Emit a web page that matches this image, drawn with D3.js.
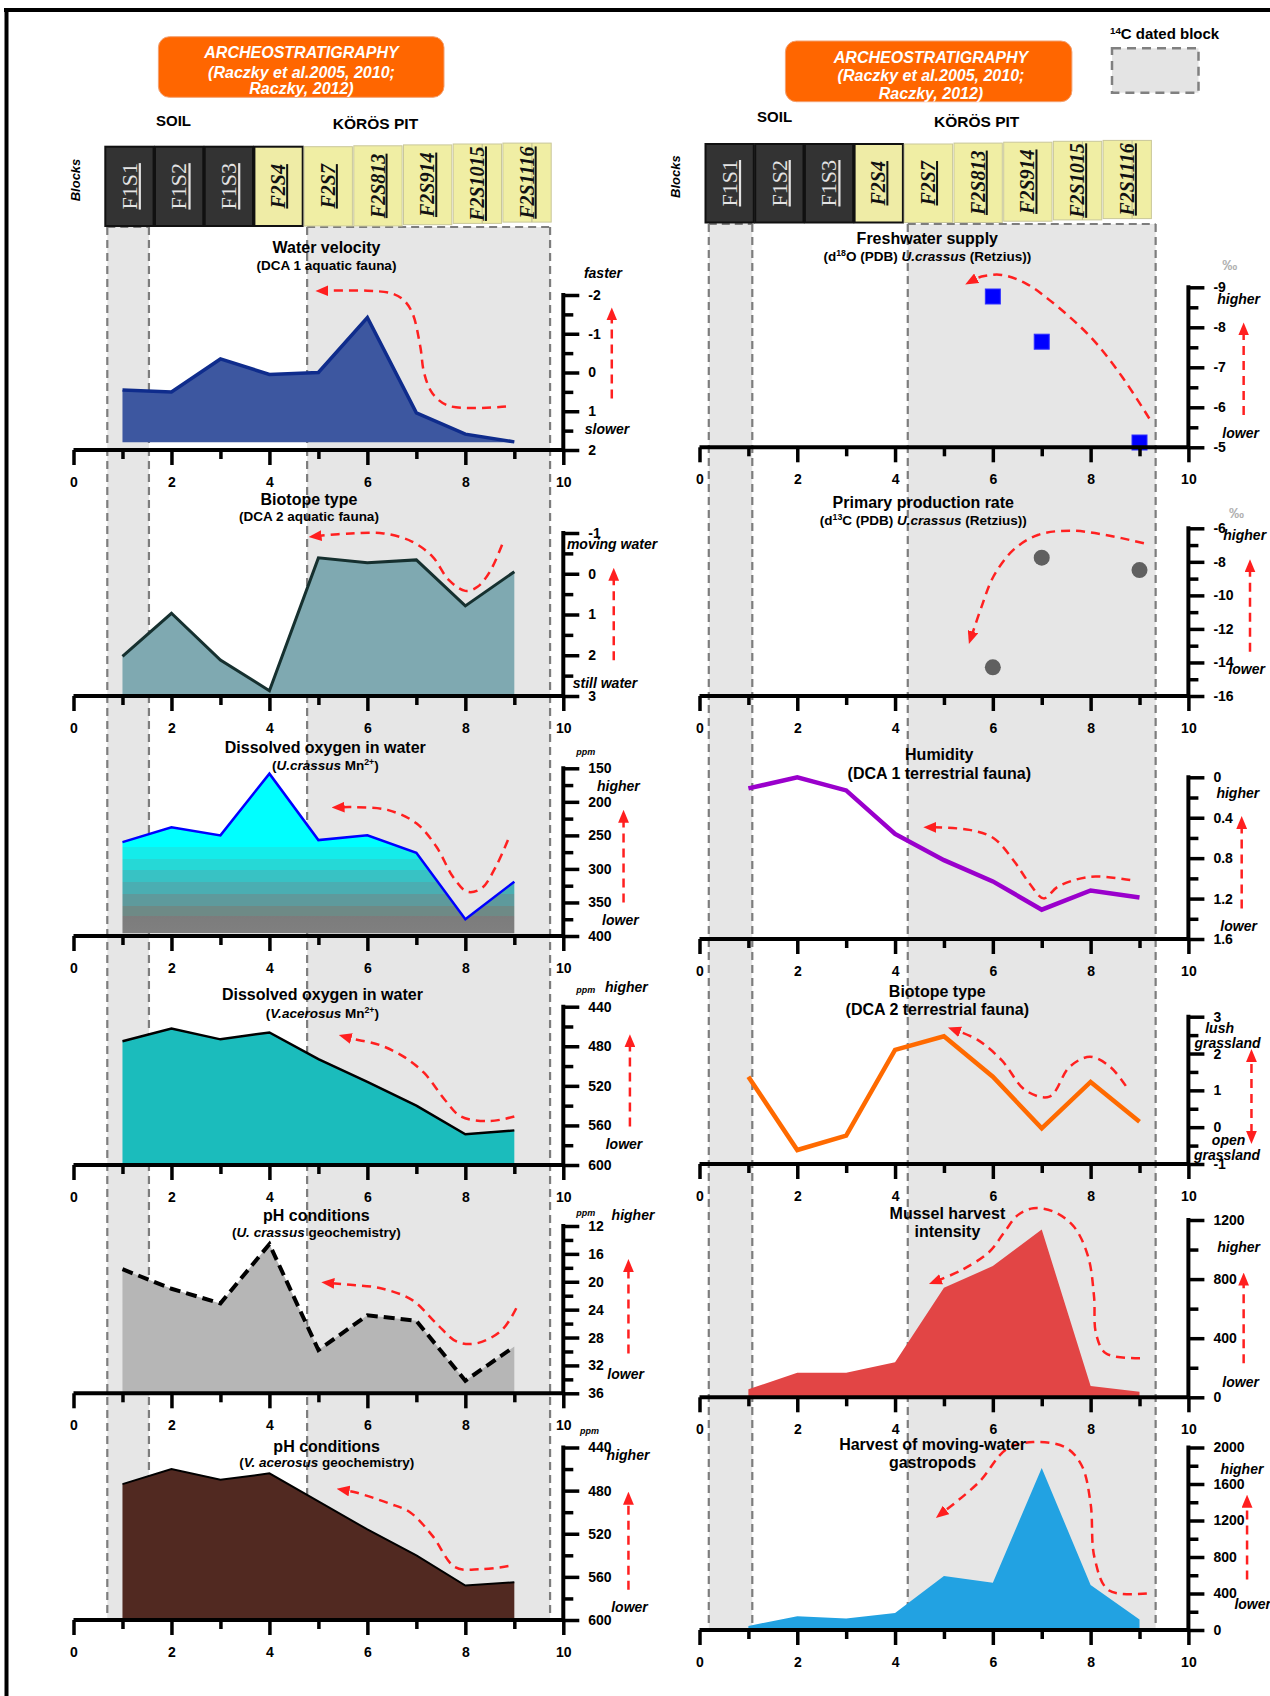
<!DOCTYPE html>
<html><head><meta charset="utf-8">
<script src="https://cdn.jsdelivr.net/npm/d3@7"></script>
<style>
body{margin:0;background:#fff;}
svg{display:block;font-family:"Liberation Sans",Arial,Helvetica,sans-serif;}
</style></head><body>
<script>
// ---------------- DATA ----------------
const xs = [1,2,3,4,5,6,7,8,9];
const waterVelocity     = [0.45,0.5,-0.35,0.05,0.0,-1.42,1.04,1.59,1.79];
const biotopeAquatic    = [2.03,0.97,2.12,2.87,-0.39,-0.27,-0.34,0.79,-0.05];
const oxygenUcrassus    = [260,238,250,158,257,250,276,375,319];
const oxygenVacerosus   = [475,462,473,466,493,516,540,569,565];
const phUcrassus        = [18.2,21.0,23.1,14.6,29.8,24.8,25.6,34.2,29.3];
const phVacerosus       = [474,460,470,464,490,516,540,568,565];
const d18Ox = [6,7,9];
const d18O  = [-8.77,-7.64,-5.12];
const d13Cx = [6,7,9];
const d13C  = [-14.29,-7.75,-8.49];
const humidity          = [0.11,0.0,0.13,0.56,0.82,1.03,1.31,1.12,1.19];
const biotopeTerrestrial= [1.37,-0.62,-0.23,2.1,2.47,1.37,-0.03,1.23,0.15];
const musselHarvest     = [54,166,166,237,742,888,1136,76,38];
const gastropodHarvest  = [44,151,127,186,592,518,1775,493,115];

const xMajor = [0,2,4,6,8,10];
const xMinor = [1,3,5,7,9];

const blockLabels = ['F1S1','F1S2','F1S3','F2S4','F2S7','F2S813','F2S914','F2S1015','F2S1116'];
const blockKind   = ['soil','soil','soil','dated','pit','pit','pit','pit','pit'];

const bandsLeft  = [[0.69,1.54],[4.77,9.73]];
const bandsRight = [[0.19,1.08],[4.26,9.33]];

// trend annotations (data units of each panel)
const annL1 = [[8.83,0.88],[7.66,0.86],[7.33,0.54],[7.16,0.02],[7.08,-0.67],[6.92,-1.53],[6.74,-1.87],[6.5,-2.04],[6.0,-2.11],[5.16,-2.11]];
const annL2 = [[8.75,-0.71],[8.5,-0.05],[8.25,0.32],[8.0,0.42],[7.66,0.15],[7.33,-0.42],[6.91,-0.79],[6.33,-0.99],[5.66,-0.99],[5.02,-0.93]];
const annL3 = [[8.87,257],[8.62,297],[8.33,329],[8.04,334],[7.75,312],[7.41,267],[7.0,232],[6.41,212],[5.75,208],[5.49,208]];
const annL4 = [[9.0,551],[8.5,555.6],[7.91,551],[7.58,534],[7.16,507],[6.74,490.5],[6.25,478.7],[5.75,473],[5.63,471.5]];
const annL5 = [[9.04,23.8],[8.75,26.9],[8.25,28.8],[7.83,28.6],[7.41,26.0],[6.91,22.6],[6.25,20.9],[5.58,20.4],[5.28,20.2]];
const annL6 = [[8.88,550],[8.3,553],[7.79,551],[7.33,522],[6.87,500],[6.45,492],[5.79,482],[5.59,480]];
const annR1 = [[9.2,-5.72],[8.64,-6.77],[7.99,-7.77],[7.16,-8.68],[6.67,-9.1],[6.18,-9.31],[5.77,-9.27],[5.63,-9.2]];
const annR2 = [[9.09,-6.89],[8.31,-6.4],[7.57,-6.14],[6.92,-6.4],[6.42,-7.29],[6.01,-8.89],[5.77,-10.67],[5.58,-12.29]];
const annR3 = [[8.81,1.017],[7.99,0.984],[7.33,1.083],[7.04,1.198],[6.75,1.05],[6.42,0.82],[6.01,0.60],[5.52,0.52],[4.8,0.495]];
const annR4 = [[8.72,1.12],[8.4,1.64],[7.99,1.91],[7.57,1.64],[7.16,0.83],[6.67,1.0],[6.18,1.82],[5.69,2.37],[5.29,2.61]];
const annR5 = [[9.01,264],[8.31,298],[8.11,433],[8.07,681],[7.95,951],[7.66,1154],[7.25,1256],[6.83,1279],[6.51,1233],[6.22,1110],[5.93,985],[5.36,861],[4.9,794]];
const annR6 = [[9.15,400],[8.37,435],[8.08,791],[8.0,1384],[7.82,1800],[7.49,2000],[6.82,2060],[6.27,1977],[5.72,1622],[5.01,1301]];

// ---------------- SETUP ----------------
const svg = d3.select('body').append('svg').attr('width',1270).attr('height',1696);
const defs = svg.append('defs');
defs.append('marker').attr('id','ah').attr('viewBox','0 0 12 10').attr('refX',2).attr('refY',5)
  .attr('markerWidth',13).attr('markerHeight',11).attr('markerUnits','userSpaceOnUse')
  .attr('orient','auto-start-reverse')
  .append('path').attr('d','M0,0L12,5L0,10Z').attr('fill','#ff1f1f');

const grad = defs.append('linearGradient').attr('id','gO2').attr('gradientUnits','userSpaceOnUse')
  .attr('x1',0).attr('x2',0).attr('y1',768).attr('y2',936);
[[0,'#00ffff'],[0.47,'#00ffff'],[0.47,'#14ecea'],[0.54,'#14ecea'],[0.54,'#26d8d6'],[0.61,'#26d8d6'],
 [0.61,'#38c2c4'],[0.68,'#38c2c4'],[0.68,'#4aaeb2'],[0.75,'#4aaeb2'],[0.75,'#5e9a9c'],[0.82,'#5e9a9c'],
 [0.82,'#6e8a86'],[0.88,'#6e8a86'],[0.88,'#7c7c7c'],[1,'#808080']].forEach(s=>
  grad.append('stop').attr('offset',s[0]).attr('stop-color',s[1]));

const xL = d3.scaleLinear().domain([0,10]).range([73.5,563.3]);
const xR = d3.scaleLinear().domain([0,10]).range([699.5,1188.4]);

// border
svg.append('line').attr('x1',4).attr('x2',1270).attr('y1',10).attr('y2',10).attr('stroke','#000').attr('stroke-width',4);
svg.append('line').attr('x1',6.5).attr('x2',6.5).attr('y1',8).attr('y2',1696).attr('stroke','#000').attr('stroke-width',4);

// ---------------- BANDS ----------------
function drawBands(x, bands, y0, y1){
  const g = svg.append('g');
  bands.forEach(b=>{
    g.append('rect').attr('x',x(b[0])).attr('y',y0).attr('width',x(b[1])-x(b[0])).attr('height',y1-y0).attr('fill','#e6e6e6');
    const ds = {stroke:'#7d7d7d','stroke-width':2.2,'stroke-dasharray':'8,5'};
    const l = [[x(b[0]),y0,x(b[0]),y1],[x(b[1]),y0,x(b[1]),y1],[x(b[0]),y0,x(b[1]),y0]];
    l.forEach(c=>{const e=g.append('line').attr('x1',c[0]).attr('y1',c[1]).attr('x2',c[2]).attr('y2',c[3]);
      Object.entries(ds).forEach(([k,v])=>e.attr(k,v));});
  });
}
drawBands(xL, bandsLeft, 227, 1620);
drawBands(xR, bandsRight, 224, 1630);

// ---------------- TEXT HELPERS ----------------
function rich(x, y, parts, o){
  o = o||{};
  const t = svg.append('text').attr('x',x).attr('y',y).attr('text-anchor',o.anchor||'middle')
    .attr('font-size',o.size||13).attr('font-weight',o.weight||'bold').attr('fill',o.fill||'#000');
  if(o.italic) t.attr('font-style','italic');
  let shift = 0;
  parts.forEach(p=>{
    const s = t.append('tspan').text(p.t);
    if(p.it) s.attr('font-style','italic');
    if(p.sup){ s.attr('font-size',(o.size||13)*0.65).attr('dy',-5); shift = 5; }
    else if(shift){ s.attr('dy',shift); shift=0; }
  });
  return t;
}
function txt(x,y,s,o){ return rich(x,y,[{t:s}],o); }

// ---------------- HEADER ----------------
function header(bx, by, bw, bh, tx, lines, soil, pit, blocksX, blocksTop, blocksBot, blocksLbl){
  svg.append('rect').attr('x',bx).attr('y',by).attr('width',bw).attr('height',bh).attr('rx',11)
    .attr('fill','#ff6600').attr('stroke','#f3a070').attr('stroke-width',1);
  lines.forEach(l=>txt(tx,l[1],l[0],{size:16,italic:true,fill:'#fff'}));
  txt(soil[0],soil[1],'SOIL',{size:15});
  txt(pit[0],pit[1],'KÖRÖS PIT',{size:15.5});
  svg.append('text').attr('transform',`translate(${blocksLbl[0]},${blocksLbl[1]}) rotate(-90)`)
    .attr('text-anchor','middle').attr('dy','0.35em').attr('font-size',13).attr('font-weight','bold')
    .attr('font-style','italic').text('Blocks');
  blockLabels.forEach((lab,i)=>{
    const x0 = blocksX + i*49.7, w = 48.3;
    const top = blocksTop - Math.max(0,i-4)*0.9, bot = blocksBot - Math.max(0,i-5)*1.3;
    const kind = blockKind[i];
    const fill = kind==='soil' ? '#333333' : (kind==='dated' ? '#efeca6' : '#f0eea4');
    const stroke = kind==='soil' ? '#111' : (kind==='dated' ? '#111' : '#c9c79a');
    const sw = kind==='pit' ? 1 : 2;
    svg.append('rect').attr('x',x0).attr('y',top).attr('width',w).attr('height',bot-top)
      .attr('fill',fill).attr('stroke',stroke).attr('stroke-width',sw);
    if(i>=7) svg.append('line').attr('x1',x0+29).attr('x2',x0+29).attr('y1',top).attr('y2',bot).attr('stroke','#b8b690').attr('stroke-width',1);
    const t = svg.append('text').attr('transform',`translate(${x0+w/2},${(top+bot)/2}) rotate(-90)`)
      .attr('text-anchor','middle').attr('dy','0.33em')
      .attr('font-family','"Liberation Serif","Times New Roman",serif')
      .style('text-decoration','underline').text(lab);
    if(kind==='soil') t.attr('font-size',22).attr('fill','#e4e4e4');
    else t.attr('font-size',20).attr('font-weight','bold').attr('font-style','italic').attr('fill','#111');
  });
}
header(158.4,36.7,285.6,60.6,301.5,[['ARCHEOSTRATIGRAPHY',57.5],['(Raczky et al.2005, 2010;',77.5],['Raczky, 2012)',94]],
  [173.5,125.5],[375.5,128.8],105.3,146.7,226,[75.5,180]);
header(785.4,41,286.5,60.7,931,[['ARCHEOSTRATIGRAPHY',62.5],['(Raczky et al.2005, 2010;',80.8],['Raczky, 2012)',98.5]],
  [774.6,122],[976.7,127],705.5,144,222.5,[675.4,176.7]);
// legend
rich(1110,39,[{t:'14',sup:true},{t:'C dated block'}],{anchor:'start',size:15});
svg.append('rect').attr('x',1112).attr('y',48.3).attr('width',86.5).attr('height',44.4)
  .attr('fill','#e4e4e4').attr('stroke','#808080').attr('stroke-width',2.5).attr('stroke-dasharray','9,6');

// ---------------- PANELS ----------------
const panels = [
 {side:'L',dom:[-2,2],top:295,bot:450,major:[-2,-1,0,1,2],minor:[-1.5,-0.5,0.5,1.5],
  kind:'area',vals:waterVelocity,base:1.8,fill:'#3d57a0',line:'#0f2c8c',lw:3.5,ann:annL1,arrow:[10.99,0.67,-1.40]},
 {side:'L',dom:[-1,3],top:533,bot:696,major:[-1,0,1,2,3],minor:[-0.5,0.5,1.5,2.5],
  kind:'area',vals:biotopeAquatic,base:3,fill:'#7fa9b1',line:'#16302f',lw:3,ann:annL2,arrow:[11.03,2.12,0.12]},
 {side:'L',dom:[150,400],top:768.3,bot:936,major:[150,200,250,300,350,400],minor:[175,225,275,325,375],
  kind:'area',vals:oxygenUcrassus,base:396,fill:'url(#gO2)',line:'#0000ff',lw:2.5,ann:annL3,arrow:[11.23,350,228]},
 {side:'L',dom:[440,600],top:1006.7,bot:1165,major:[440,480,520,560,600],minor:[460,500,540,580],
  kind:'area',vals:oxygenVacerosus,base:600,fill:'#1bbcbc',line:'#000',lw:2.5,ann:annL4,arrow:[11.36,561,478.7]},
 {side:'L',dom:[12,36],top:1226,bot:1393.3,major:[12,16,20,24,28,32,36],minor:[14,18,22,26,30,34],
  kind:'area',vals:phUcrassus,base:36,fill:'#b6b6b6',line:'#000',lw:4,dash:'11,6',ann:annL5,arrow:[11.33,30.3,18.3]},
 {side:'L',dom:[440,600],top:1447.5,bot:1620,major:[440,480,520,560,600],minor:[460,500,540,580],
  kind:'area',vals:phVacerosus,base:600,fill:'#512921',line:'#000',lw:2,ann:annL6,arrow:[11.33,572,491]},
 {side:'R',dom:[-9,-5],top:287.3,bot:447.3,major:[-9,-8,-7,-6,-5],minor:[-8.5,-7.5,-6.5,-5.5],
  kind:'square',px:d18Ox,vals:d18O,ann:annR1,arrow:[11.13,-5.81,-7.85]},
 {side:'R',dom:[-6,-16],top:528.3,bot:696,major:[-6,-8,-10,-12,-14,-16],minor:[-7,-9,-11,-13,-15],
  kind:'circle',px:d13Cx,vals:d13C,ann:annR2,arrow:[11.26,-13.36,-8.49]},
 {side:'R',dom:[0,1.6],top:777.3,bot:939,major:[0,0.4,0.8,1.2,1.6],minor:[0.2,0.6,1.0,1.4],
  kind:'line',vals:humidity,line:'#9a00cc',lw:4.5,ann:annR3,arrow:[11.09,1.297,0.49]},
 {side:'R',dom:[3,-1],top:1016.7,bot:1164,major:[3,2,1,0,-1],minor:[2.5,1.5,0.5,-0.5],
  kind:'line',vals:biotopeTerrestrial,line:'#ff6a00',lw:4.5,ann:annR4,arrow:[11.29,-0.16,1.83],both:true},
 {side:'R',dom:[1200,0],top:1220,bot:1397.3,major:[1200,800,400,0],minor:[1000,600,200],
  kind:'area',vals:musselHarvest,base:0,fill:'#e24545',ann:annR5,arrow:[11.13,230,771]},
 {side:'R',dom:[2000,0],top:1447.5,bot:1630,major:[2000,1600,1200,800,400,0],minor:[1800,1400,1000,600,200],
  kind:'area',vals:gastropodHarvest,base:0,fill:'#22a2e2',ann:annR6,arrow:[11.2,554,1364]},
];

const red = '#ff2020';
panels.forEach(p=>{
  const x = p.side==='L' ? xL : xR;
  const y = d3.scaleLinear().domain(p.dom).range([p.top,p.bot]);
  const g = svg.append('g');
  const pts = xs.map((d,i)=>[d,p.vals[i]]);
  if(p.kind==='area'){
    g.append('path').datum(pts).attr('fill',p.fill)
      .attr('d',d3.area().x(d=>x(d[0])).y0(y(p.base)).y1(d=>y(d[1])));
    if(p.line) g.append('path').datum(pts).attr('fill','none').attr('stroke',p.line).attr('stroke-width',p.lw)
      .attr('stroke-linejoin','miter').attr('stroke-dasharray',p.dash||null)
      .attr('d',d3.line().x(d=>x(d[0])).y(d=>y(d[1])));
  } else if(p.kind==='line'){
    g.append('path').datum(pts).attr('fill','none').attr('stroke',p.line).attr('stroke-width',p.lw)
      .attr('d',d3.line().x(d=>x(d[0])).y(d=>y(d[1])));
  } else if(p.kind==='square'){
    g.selectAll('rect').data(p.px.map((d,i)=>[d,p.vals[i]])).join('rect')
      .attr('x',d=>x(d[0])-7.5).attr('y',d=>y(d[1])-7.5).attr('width',15).attr('height',15)
      .attr('fill','#0000ff').attr('stroke','#3030ff').attr('stroke-width',1);
  } else if(p.kind==='circle'){
    g.selectAll('circle').data(p.px.map((d,i)=>[d,p.vals[i]])).join('circle')
      .attr('cx',d=>x(d[0])).attr('cy',d=>y(d[1])).attr('r',8).attr('fill','#606060');
  }
  // trend annotation
  g.append('path').datum(p.ann).attr('fill','none').attr('stroke',red).attr('stroke-width',2.5)
    .attr('stroke-dasharray','9,6').attr('marker-end','url(#ah)')
    .attr('d',d3.line().curve(d3.curveCatmullRom.alpha(0.5)).x(d=>x(d[0])).y(d=>y(d[1])));
  const a = p.arrow;
  const va = g.append('line').attr('x1',x(a[0])).attr('x2',x(a[0])).attr('y1',y(a[1])).attr('y2',y(a[2]))
    .attr('stroke',red).attr('stroke-width',2.5).attr('stroke-dasharray','9,6').attr('marker-end','url(#ah)');
  if(p.both) va.attr('marker-start','url(#ah)');

  // axes
  const fmt = d=>String(d);
  const ax = svg.append('g').attr('transform',`translate(0,${p.bot})`);
  ax.call(d3.axisBottom(x).tickValues(xMajor).tickSize(15).tickPadding(12).tickSizeOuter(0).tickFormat(fmt));
  ax.call(g2=>g2.select('.domain').remove());
  const ax2 = svg.append('g').attr('transform',`translate(0,${p.bot})`);
  ax2.call(d3.axisBottom(x).tickValues(xMinor).tickSize(9).tickSizeOuter(0).tickFormat(()=>''));
  ax2.select('.domain').remove();
  svg.append('line').attr('x1',x(0)).attr('x2',x(10)).attr('y1',p.bot).attr('y2',p.bot).attr('stroke','#000').attr('stroke-width',4);
  const ay = svg.append('g').attr('transform',`translate(${x(10)},0)`);
  ay.call(d3.axisRight(y).tickValues(p.major).tickSize(16).tickPadding(9).tickSizeOuter(0).tickFormat(fmt));
  ay.select('.domain').remove();
  const ay2 = svg.append('g').attr('transform',`translate(${x(10)},0)`);
  ay2.call(d3.axisRight(y).tickValues(p.minor).tickSize(10).tickSizeOuter(0).tickFormat(()=>''));
  ay2.select('.domain').remove();
  svg.append('line').attr('x1',x(10)).attr('x2',x(10)).attr('y1',p.top-2).attr('y2',p.bot).attr('stroke','#000').attr('stroke-width',4);
  [ax,ax2,ay,ay2].forEach(s=>{
    s.selectAll('.tick line').attr('stroke','#000').attr('stroke-width',3.5);
    s.selectAll('.tick text').attr('font-size',14).attr('font-weight','bold')
      .attr('font-family','"Liberation Sans",Arial,sans-serif').attr('fill','#000');
  });
});

// ---------------- PANEL TEXTS ----------------
const T = 16, S = 13.5;
// left
txt(326.5,252.5,'Water velocity',{size:T});
txt(326.5,269.8,'(DCA 1 aquatic fauna)',{size:S});
txt(309,505,'Biotope type',{size:T});
txt(309,520.8,'(DCA 2 aquatic fauna)',{size:S});
txt(325.3,752.5,'Dissolved oxygen in water',{size:T});
rich(325.3,769.8,[{t:'('},{t:'U.crassus',it:true},{t:' Mn'},{t:'2+',sup:true},{t:')'}],{size:S});
txt(322.4,999.8,'Dissolved oxygen in water',{size:T});
rich(322.4,1018,[{t:'('},{t:'V.acerosus',it:true},{t:' Mn'},{t:'2+',sup:true},{t:')'}],{size:S});
txt(316.3,1220.8,'pH conditions',{size:T});
rich(316.3,1236.5,[{t:'('},{t:'U. crassus',it:true},{t:' geochemistry)'}],{size:S});
txt(326.7,1452,'pH conditions',{size:T});
rich(326.7,1467.4,[{t:'('},{t:'V. acerosus',it:true},{t:' geochemistry)'}],{size:S});
// right
txt(927.3,244,'Freshwater supply',{size:T});
rich(927.3,260.8,[{t:'(d'},{t:'18',sup:true},{t:'O (PDB) '},{t:'U.crassus',it:true},{t:' (Retzius))'}],{size:S});
txt(923.3,507.5,'Primary production rate',{size:T});
rich(923.3,524.8,[{t:'(d'},{t:'13',sup:true},{t:'C (PDB) '},{t:'U.crassus',it:true},{t:' (Retzius))'}],{size:S});
txt(939.3,760,'Humidity',{size:T});
txt(939.3,779,'(DCA 1 terrestrial fauna)',{size:T});
txt(937.3,996.5,'Biotope type',{size:T});
txt(937.3,1015,'(DCA 2 terrestrial fauna)',{size:T});
txt(947.4,1218.5,'Mussel harvest',{size:T});
txt(947.4,1236.8,'intensity',{size:T});
txt(932.5,1449.8,'Harvest of moving-water',{size:T});
txt(932.5,1468.3,'gastropods',{size:T});

// side labels
const I = {size:14,italic:true};
[[603,277.7,'faster'],[607,434,'slower'],[612,549,'moving water'],[605,687.7,'still water'],
 [618.4,790.7,'higher'],[620.4,925,'lower'],[626.4,991.6,'higher'],[624,1148.5,'lower'],
 [633,1219.9,'higher'],[625.6,1378.8,'lower'],[628,1460,'higher'],[629.5,1611.6,'lower'],
 [1238.6,304.3,'higher'],[1240.6,437.7,'lower'],[1244.7,540,'higher'],[1246.7,674.3,'lower'],
 [1237.8,797.7,'higher'],[1238.6,931,'lower'],
 [1219.6,1032.7,'lush'],[1227.5,1048.3,'grassland'],[1228.6,1145,'open'],[1227,1160,'grassland'],
 [1238.6,1252.3,'higher'],[1240.6,1386.7,'lower'],[1242,1474,'higher'],[1252.7,1609,'lower']
].forEach(d=>txt(d[0],d[1],d[2],I));
[[585.7,755],[585.7,993],[585.7,1215.7],[589.6,1434]].forEach(d=>txt(d[0],d[1],'ppm',{size:9,italic:true}));
txt(1229.8,270,'‰',{size:15,fill:'#b0b0b0'});
txt(1236.6,518,'‰',{size:15,fill:'#b0b0b0'});
</script></body></html>
